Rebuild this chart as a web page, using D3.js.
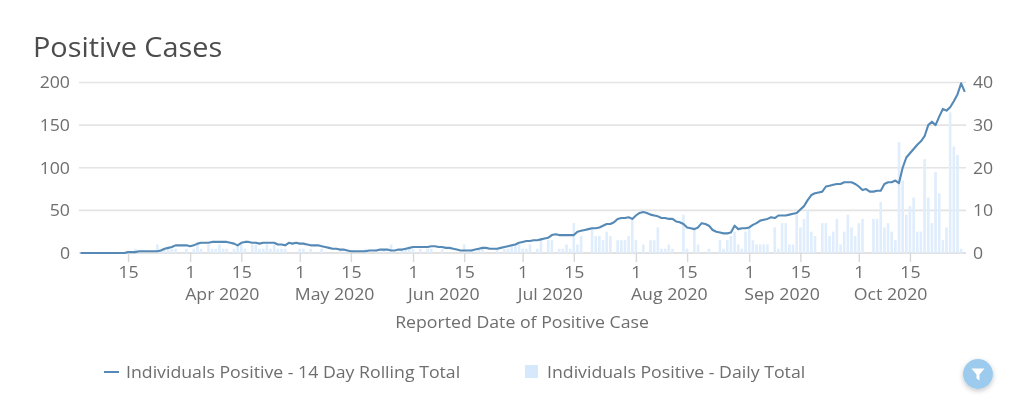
<!DOCTYPE html>
<html>
<head>
<meta charset="utf-8">
<script src="https://d3js.org/d3.v7.min.js"></script>
<style>
  html, body { margin: 0; padding: 0; background: #fff; }
  svg { display: block; font-family: "Open Sans", sans-serif; filter: blur(0.45px); }
  .tick text { fill: #6e6e6e; font-size: 16.4px; font-family: "Open Sans", sans-serif; }
  .domain { display: none; }
</style>
</head>
<body>
<svg id="chart" width="1023" height="411"></svg>
<script>
// Rolling 14 day total by month (left axis), series starts 2 Mar and ends 30 Oct
var rollMar = [0,0,0,0,0,0,0,0,0,0,0,0,0,1,1,1,2,2,2,2,2,2,3,5,6,7,9,9,9,9];
var rollApr = [8,9,11,12,12,12,13,13,13,13,13,12,11,9,12,13,13,12,12,11,12,12,12,12,10,10,9,12,11,12];
var rollMay = [11,11,10,9,9,9,8,7,6,5,5,4,4,3,2,2,2,2,2,3,3,3,4,4,4,3,3,4,4,5,6];
var rollJun = [7,7,7,7,7,8,8,7,7,6,6,5,4,3,3,3,3,4,5,6,6,5,5,5,6,7,8,9,10,12];
var rollJul = [13,14,14,15,15,16,17,18,21,22,21,21,21,21,21,25,26,27,28,29,29,30,32,34,34,36,40,41,41,42,40];
var rollAug = [44,47,48,47,45,44,43,41,41,40,40,37,36,34,30,29,28,30,35,34,32,27,25,24,23,23,24,32,28,29,29];
var rollSep = [30,33,35,38,39,40,42,41,44,44,44,45,46,47,51,55,62,68,70,71,72,78,79,80,81,81,83,83,83,81];
var rollOct = [78,74,75,72,72,73,73,81,83,83,85,82,100,112,117,122,127,131,137,150,154,150,160,169,167,171,178,186,199,189];

// Daily totals by month (right axis)
var dailyMar = [0,0,0,0,0,0,0,0,0,0,0,0,0,0,0,1,0,0,0,0,0,2,1,1,1,1,1,0,0,1];
var dailyApr = [0,1,2,1,0,2,1,1,2,1,1,0,1,2,2,1,0,2,2,1,1,2,1,2,1,1,1,0,0,0];
var dailyMay = [1,1,0,1,0,0,1,0,0,0,0,1,0,0,0,0,0,0,1,0,0,1,0,1,0,2,0,0,1,1,1];
var dailyJun = [1,0,1,0,1,1,0,0,1,0,0,0,0,0,2,0,1,0,1,1,0,0,0,1,0,1,1,2,2,2];
var dailyJul = [1,1,2,0,1,3,0,3,3,0,1,1,2,1,7,2,4,0,0,6,4,4,3,5,4,0,3,3,3,4,8];
var dailyAug = [3,0,2,0,3,3,6,1,1,2,1,0,0,9,1,0,6,2,0,0,1,0,0,3,1,3,4,5,2,1,5];
var dailySep = [6,3,2,2,2,2,0,6,1,7,7,2,2,9,6,8,10,5,4,0,7,7,4,5,8,2,5,9,6,4];
var dailyOct = [7,8,0,0,8,8,12,6,7,5,3,26,17,9,11,13,5,5,22,13,7,19,14,3,6,33,25,23,1,0];

var rolling = [].concat(rollMar, rollApr, rollMay, rollJun, rollJul, rollAug, rollSep, rollOct);
var daily = [].concat(dailyMar, dailyApr, dailyMay, dailyJun, dailyJul, dailyAug, dailySep, dailyOct);

// Tick labels
var leftTicks = [0, 50, 100, 150, 200];
var rightTicks = [0, 10, 20, 30, 40];
var monthLabels = ["Apr 2020", "May 2020", "Jun 2020", "Jul 2020", "Aug 2020", "Sep 2020", "Oct 2020"];
var tickDates = ["2020-03-15", "2020-04-01", "2020-04-15", "2020-05-01", "2020-05-15", "2020-06-01", "2020-06-15",
  "2020-07-01", "2020-07-15", "2020-08-01", "2020-08-15", "2020-09-01", "2020-09-15", "2020-10-01", "2020-10-15"];

var svg = d3.select("#chart");
var plotLeft = 79, plotRight = 966, plotTop = 82.5, plotBottom = 253;
var barColor = "#dfedfc", lineColor = "#5589b6", textColor = "#6e6e6e";

var x = d3.scaleUtc()
  .domain([Date.UTC(2020, 2, 1, 14), Date.UTC(2020, 9, 30, 8)])
  .range([plotLeft, plotRight]);
var yLeft = d3.scaleLinear().domain([0, 200]).range([plotBottom, plotTop]);
var yRight = d3.scaleLinear().domain([0, 40]).range([plotBottom, plotTop]);

function dayOf(i) {
  return new Date(Date.UTC(2020, 2, 2 + i));
}

// The reference's text is slightly wider than the font, so stretch it a bit
function stretch(sel) {
  sel.each(function() {
    this.setAttribute("textLength", this.getComputedTextLength() * 1.08);
    this.setAttribute("lengthAdjust", "spacingAndGlyphs");
  });
}

// Title
svg.append("text")
  .attr("x", 33).attr("y", 57)
  .attr("font-size", 26.7).attr("fill", "#4c4c4c")
  .text("Positive Cases")
  .call(stretch);

// Gridlines
svg.append("g").selectAll("line")
  .data(leftTicks)
  .join("line")
  .attr("x1", plotLeft).attr("x2", plotRight)
  .attr("y1", d => yLeft(d)).attr("y2", d => yLeft(d))
  .attr("stroke", d => d == 0 ? "#d8d8d8" : "#e4e4e4")
  .attr("stroke-width", 1.6);

// Daily bars
var barWidth = 2.6;
svg.append("g").selectAll("rect")
  .data(daily)
  .join("rect")
  .attr("x", (d, i) => x(dayOf(i)) - barWidth / 2)
  .attr("y", d => yRight(d))
  .attr("width", barWidth)
  .attr("height", d => plotBottom - yRight(d))
  .attr("fill", barColor);

// Rolling total line
var line = d3.line()
  .x((d, i) => x(dayOf(i)))
  .y(d => yLeft(d));

svg.append("path")
  .datum(rolling)
  .attr("d", line)
  .attr("fill", "none")
  .attr("stroke", lineColor)
  .attr("stroke-width", 2.1)
  .attr("stroke-linejoin", "round");

// Axes
svg.append("g")
  .attr("transform", `translate(${plotLeft - 3},0)`)
  .call(d3.axisLeft(yLeft).tickValues(leftTicks).tickSize(0).tickPadding(6))
  .selectAll("text").call(stretch);

svg.append("g")
  .attr("transform", `translate(${plotRight + 1},0)`)
  .call(d3.axisRight(yRight).tickValues(rightTicks).tickSize(0).tickPadding(6))
  .selectAll("text").call(stretch);

var xAxis = svg.append("g")
  .attr("transform", `translate(0,${plotBottom})`)
  .call(d3.axisBottom(x).tickValues(tickDates.map(d => new Date(d))).tickSize(9).tickPadding(4.5)
    .tickFormat(d3.utcFormat("%-d")));
xAxis.selectAll(".tick line").attr("stroke", "#d8d8d8").attr("stroke-width", 1.4);
xAxis.selectAll("text").call(stretch);

// Month labels start just left of the tick of the 1st
svg.append("g").selectAll("text")
  .data(monthLabels)
  .join("text")
  .attr("x", (d, i) => x(new Date(Date.UTC(2020, 3 + i, 1))) - 5)
  .attr("y", 299.5)
  .attr("font-size", 16.4).attr("fill", textColor)
  .text(d => d)
  .call(stretch);

svg.append("text")
  .attr("x", 522).attr("y", 328)
  .attr("text-anchor", "middle")
  .attr("font-size", 16.4).attr("fill", textColor)
  .text("Reported Date of Positive Case")
  .call(stretch);

// Legend
svg.append("line")
  .attr("x1", 104).attr("x2", 119).attr("y1", 372).attr("y2", 372)
  .attr("stroke", lineColor).attr("stroke-width", 2);
svg.append("text")
  .attr("x", 126).attr("y", 378)
  .attr("font-size", 16.4).attr("fill", textColor)
  .text("Individuals Positive - 14 Day Rolling Total")
  .call(stretch);
svg.append("rect")
  .attr("x", 525).attr("y", 365).attr("width", 13).attr("height", 13)
  .attr("fill", "#d6e8fb");
svg.append("text")
  .attr("x", 547).attr("y", 378)
  .attr("font-size", 16.4).attr("fill", textColor)
  .text("Individuals Positive - Daily Total")
  .call(stretch);

// Filter button
var defs = svg.append("defs");
var shadow = defs.append("filter").attr("id", "btnShadow")
  .attr("x", "-50%").attr("y", "-50%").attr("width", "200%").attr("height", "200%");
shadow.append("feDropShadow")
  .attr("dx", 0).attr("dy", 2).attr("stdDeviation", 2.5)
  .attr("flood-color", "#000").attr("flood-opacity", 0.22);
svg.append("circle")
  .attr("cx", 978).attr("cy", 374).attr("r", 15)
  .attr("fill", "#9ccbee")
  .attr("filter", "url(#btnShadow)");
svg.append("path")
  .attr("d", "M971.5 368.5h13l-5 6v6l-3-2v-4z")
  .attr("fill", "#fff");
</script>
</body>
</html>
